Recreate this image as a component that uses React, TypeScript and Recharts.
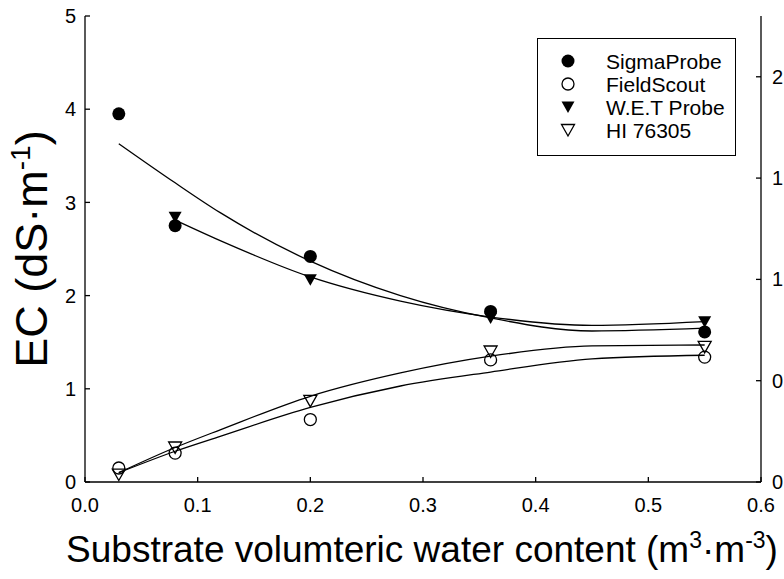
import React from 'react';
import { ComposedChart, Scatter, Line, XAxis, YAxis } from 'recharts';

// measured points (x = substrate VWC, y = EC)
const xValues = [0.03, 0.08, 0.2, 0.36, 0.55];
const sigmaProbe = [3.95, 2.75, 2.42, 1.83, 1.61];
const fieldScout = [0.15, 0.31, 0.67, 1.31, 1.34];
const wetX = [0.08, 0.2, 0.36, 0.55];
const wetProbe = [2.84, 2.17, 1.76, 1.72];
const hi76305 = [0.08, 0.37, 0.87, 1.40, 1.45];

// regression curves
const fitX = [0.03, 0.08, 0.12, 0.2, 0.28, 0.36, 0.45, 0.55];
const sigmaFit = [3.63, 3.21, 2.89, 2.37, 2.0, 1.76, 1.62, 1.65];
const fieldFit = [0.1, 0.33, 0.49, 0.8, 1.03, 1.18, 1.32, 1.36];
const hiFit = [0.1, 0.37, 0.56, 0.92, 1.17, 1.35, 1.46, 1.47];
const wetFitX = [0.08, 0.12, 0.2, 0.28, 0.36, 0.45, 0.55];
const wetFit = [2.81, 2.59, 2.2, 1.94, 1.77, 1.68, 1.72];

const xTicks = [0, 0.1, 0.2, 0.3, 0.4, 0.5, 0.6];
const leftTicks = [0, 1, 2, 3, 4, 5];
const rightTicks = [0, 0.5, 1, 1.5, 2];
const seriesNames = ['SigmaProbe', 'FieldScout', 'W.E.T Probe', 'HI 76305'];

const FONT = '"Liberation Sans", Arial, sans-serif';

const toPoints = (xs: number[], ys: number[]) => xs.map((x, i) => ({ x, y: ys[i] }));

const FilledCircle = (p: any) => <circle cx={p.cx} cy={p.cy} r={6.5} fill="#000" />;
const OpenCircle = (p: any) => <circle cx={p.cx} cy={p.cy} r={6} fill="none" stroke="#000" strokeWidth={1.3} />;
const triPoints = (cx: number, cy: number) => `${cx - 6.5},${cy - 5.5} ${cx + 6.5},${cy - 5.5} ${cx},${cy + 6}`;
const FilledTri = (p: any) => <polygon points={triPoints(p.cx, p.cy)} fill="#000" />;
const OpenTri = (p: any) => <polygon points={triPoints(p.cx, p.cy)} fill="none" stroke="#000" strokeWidth={1.3} />;

const markers = [FilledCircle, OpenCircle, FilledTri, OpenTri];

const XTitle = () => (
    <text x={422} y={562} textAnchor="middle" fontSize={37} fontFamily={FONT} fill="#000">
        Substrate volumteric water content (m<tspan dy={-14} fontSize={23}>3</tspan>
        <tspan dy={14}>·m</tspan><tspan dy={-14} fontSize={23}>-3</tspan><tspan dy={14}>)</tspan>
    </text>
);

const YTitle = () => (
    <text transform="translate(47,249) rotate(-90)" textAnchor="middle" fontSize={45} fontFamily={FONT} fill="#000">
        EC (dS·m<tspan dy={-17} fontSize={28}>-1</tspan><tspan dy={17}>)</tspan>
    </text>
);

const axisLine = { stroke: '#000', strokeWidth: 1.3 };
const tickStyle = { fill: '#000', fontSize: 20, fontFamily: FONT };

const App: React.FC = () => {
    const series = [
        toPoints(xValues, sigmaProbe),
        toPoints(xValues, fieldScout),
        toPoints(wetX, wetProbe),
        toPoints(xValues, hi76305),
    ];
    const fits = [
        toPoints(fitX, sigmaFit),
        toPoints(fitX, fieldFit),
        toPoints(wetFitX, wetFit),
        toPoints(fitX, hiFit),
    ];

    return (
        <div style={{ position: 'absolute', left: 0, top: 0, width: 784, height: 579, overflow: 'hidden', background: '#fff' }}>
            <ComposedChart width={784} height={579} data={fits[0]} margin={{ top: 16, right: 0, bottom: 0, left: 0 }}>
                <XAxis xAxisId="bottom" dataKey="x" type="number" domain={[0, 0.6]} ticks={xTicks} interval={0}
                    tickFormatter={(v: number) => v.toFixed(1)} height={97} tickSize={-5} tickMargin={21}
                    axisLine={axisLine} tickLine={axisLine} tick={tickStyle} allowDataOverflow label={<XTitle />} />
                <XAxis xAxisId="top" orientation="top" dataKey="x" type="number" domain={[0, 0.6]} ticks={xTicks} interval={0}
                    height={0} tickSize={-5} tick={false} axisLine={axisLine} tickLine={axisLine} allowDataOverflow />
                <YAxis yAxisId="left" dataKey="y" type="number" domain={[0, 5]} ticks={leftTicks} interval={0}
                    width={85} tickSize={-5} tickMargin={14} axisLine={axisLine} tickLine={axisLine} tick={tickStyle}
                    allowDataOverflow label={<YTitle />} />
                <YAxis yAxisId="right" orientation="right" dataKey="y" type="number" domain={[0, 2.3]} ticks={rightTicks} interval={0}
                    width={23} tickSize={-5} tickMargin={16} tickFormatter={(v: number) => v.toFixed(1)} allowDataOverflow
                    axisLine={axisLine} tickLine={axisLine} tick={tickStyle} />
                {fits.map((d, i) => (
                    <Line key={'fit' + i} xAxisId="bottom" yAxisId="left" data={d} dataKey="y" type="monotone"
                        stroke="#000" strokeWidth={1.3} dot={false} activeDot={false} isAnimationActive={false} />
                ))}
                {series.map((d, i) => (
                    <Scatter key={seriesNames[i]} name={seriesNames[i]} xAxisId="bottom" yAxisId="left" data={d} dataKey="y"
                        shape={markers[i]} isAnimationActive={false} />
                ))}
            </ComposedChart>
            <div style={{ position: 'absolute', left: 537, top: 38, width: 199, height: 118, border: '1px solid #000', boxSizing: 'border-box', background: '#fff' }}>
                <svg width={197} height={116} style={{ position: 'absolute', left: 0, top: 0 }}>
                    {seriesNames.map((name, i) => {
                        const Marker = markers[i];
                        const cy = 22 + i * 23;
                        return (
                            <g key={name}>
                                <Marker cx={30} cy={cy} />
                                <text x={68} y={cy} dy="0.36em" fontSize={21} fontFamily={FONT} fill="#000">{name}</text>
                            </g>
                        );
                    })}
                </svg>
            </div>
        </div>
    );
};

export default App;
